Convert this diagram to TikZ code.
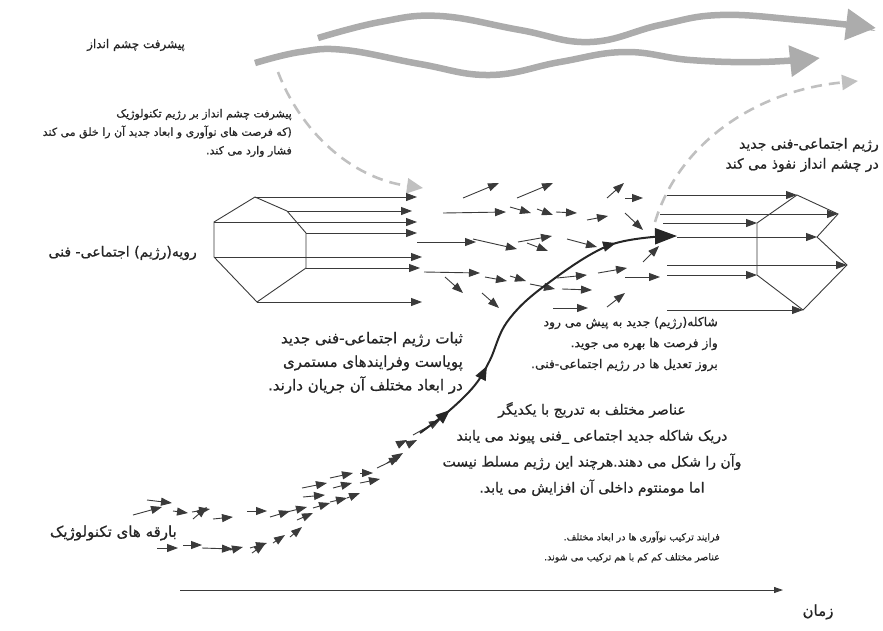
\documentclass[tikz,border=0pt]{standalone}
\usepackage{fontspec}
\usepackage{tikz}
\usetikzlibrary{arrows.meta,positioning,decorations.markings}
\newfontfamily\fafont[Script=Arabic, FakeBold=0.8]{DejaVu Sans}
\TeXXeTstate=1
\newcommand{\rl}[1]{\beginR #1\endR}
\definecolor{landgray}{RGB}{172,172,172}
\definecolor{dashgray}{RGB}{192,192,192}
\definecolor{inkgray}{RGB}{58,58,58}

\begin{document}
\begin{tikzpicture}
    [x=1pt, y=-1pt,
    txt/.style={font=\fafont, text=black!85, inner sep=0pt},
    landarrow/.style={draw=landgray, line width=6.5pt, -{Triangle[length=30pt,width=30pt]}},
    pressure/.style={draw=dashgray, line width=2.6pt, dash pattern=on 11pt off 7pt, -{Triangle[length=16pt,width=15pt]}},
    flow/.style={draw=inkgray, line width=0.9pt, -{Triangle[length=11pt,width=8pt]}},
    regime/.style={draw=inkgray, line width=0.9pt},
    niche/.style={draw=black!85, line width=2pt, -{Triangle[length=22pt,width=16pt]},
      postaction={decorate}, decoration={markings,
        mark=at position 0.11 with {\arrow{Triangle[length=14pt,width=11pt]}},
        mark=at position 0.28 with {\arrow{Triangle[length=14pt,width=11pt]}},
        mark=at position 0.82 with {\arrow{Triangle[length=13pt,width=10pt]}}}}]
    \useasboundingbox (0,0) rectangle (883,630);

    % landscape
    \node (land) [txt, anchor=east, font=\fafont\fontsize{12}{14}\selectfont] at (185,45) {\rl{پیشرفت چشم انداز}};
    \draw[landarrow] plot[smooth, tension=0.7] coordinates {(318,38) (380,22) (440,16) (520,30) (590,42) (660,25) (720,15) (800,20) (876,28)};
    \draw[landarrow] plot[smooth, tension=0.7] coordinates {(255,63) (300,52) (345,50) (420,64) (490,75) (560,62) (625,52) (690,60) (760,62) (820,58)};

    \node (press) [txt, anchor=east, align=right, font=\fafont\fontsize{11}{18.5}\selectfont] at (292,133)
      {\rl{پیشرفت چشم انداز بر رژیم تکنولوژیک}\\ \rl{(که فرصت های نوآوری و ابعاد جدید آن را خلق می کند}\\ \rl{فشار وارد می کند.}\hspace{28pt}};
    \draw[pressure] (278,72) .. controls (300,130) and (350,178) .. (423,188);

    % old regime
    \node (oldreg) [txt, anchor=east, font=\fafont\fontsize{14}{16}\selectfont] at (197,253) {\rl{رویه(رژیم) اجتماعی- فنی}};
    \coordinate (h1) at (255,197);
    \coordinate (h2) at (287,211);
    \coordinate (h3) at (306,233);
    \coordinate (h4) at (306,268);
    \coordinate (h5) at (257,302);
    \coordinate (h6) at (214,257);
    \coordinate (h7) at (214,222);
    \draw[regime] (h1) -- (h2) -- (h3) -- (h4) -- (h5) -- (h6) -- (h7) -- cycle;
    \draw[flow] (h1) -- (417,197);
    \draw[flow] (h2) -- (412,211);
    \draw[flow] (h7) -- (417,222);
    \draw[flow] (h3) -- (417,233);
    \draw[flow] (h6) -- (422,257);
    \draw[flow] (h4) -- (420,268);
    \draw[flow] (h5) -- (422,302);

    % regime in motion
    \foreach \xa/\ya/\xb/\yb in {463/198/499/183, 517/198/553/183, 443/213/506/212, 510/207/531/213,
      537/209/553/215, 556/212/577/213, 587/220/608/216, 607/198/624/183, 625/198/643/198,
      625/213/643/230, 417/242/476/242, 473/239/517/249, 518/242/552/236, 527/243/548/251,
      567/239/597/247, 424/272/480/273, 445/277/463/293, 485/277/507/281, 510/276/526/281,
      530/284/555/289, 557/278/587/275, 562/289/592/290, 482/293/499/308, 553/308/588/308,
      598/273/627/268, 607/307/625/293, 625/277/660/277, 643/262/659/246}
      \draw[flow] (\xa,\ya) -- (\xb,\yb);

    % niches
    \foreach \xa/\ya/\xb/\yb in {147/500/172/503, 133/515/162/507, 173/511/188/513, 192/512/210/509,
      193/519/207/507, 213/519/233/517, 247/511/267/511, 270/517/290/511, 287/512/307/507,
      297/520/313/513, 302/488/327/483, 330/478/353/473, 303/497/325/495, 333/488/352/483,
      313/508/330/503, 330/502/347/498, 347/498/360/493, 360/473/373/473, 360/483/380/479,
      377/468/400/457, 387/463/403/453, 397/445/407/440, 407/445/417/440, 413/435/440/420,
      157/548/178/548, 183/545/202/545, 202/548/233/549, 230/550/243/547, 250/548/267/543,
      252/553/265/544, 273/543/285/535, 290/537/302/527}
      \draw[flow] (\xa,\ya) -- (\xb,\yb);
    \node (spark) [txt, anchor=east, font=\fafont\fontsize{15}{17}\selectfont] at (177,533) {\rl{بارقه های تکنولوژیک}};

    \draw[niche] plot[smooth, tension=0.6] coordinates {(420,433) (450,410) (475,385) (490,360) (507,322) (543,287) (610,245) (677,236)};

    % new regime
    \coordinate (n1) at (757,223);
    \coordinate (n2) at (797,195);
    \coordinate (n3) at (838,214);
    \coordinate (n4) at (817,237);
    \coordinate (n5) at (847,265);
    \coordinate (n6) at (803,310);
    \coordinate (n7) at (757,275);
    \draw[regime] (n1) -- (n2) -- (n3) -- (n4) -- (n5) -- (n6) -- (n7) -- cycle;
    \draw[flow] (667,195) -- (n2);
    \draw[flow] (660,214) -- (n3);
    \draw[flow] (663,223) -- (n1);
    \draw[flow] (677,237) -- (n4);
    \draw[flow] (667,265) -- (n5);
    \draw[flow] (667,275) -- (n7);
    \draw[flow] (667,310) -- (n6);
    \draw[pressure] (655,222) .. controls (680,140) and (760,90) .. (858,81);

    \node (newreg) [txt, anchor=east, align=right, font=\fafont\fontsize{14}{20}\selectfont] at (879,155)
      {\rl{رژیم اجتماعی-فنی جدید}\\ \rl{در چشم انداز نفوذ می کند}};

    \node (stable) [txt, anchor=east, align=right, font=\fafont\fontsize{15}{23.5}\selectfont] at (463,363)
      {\rl{ثبات رژیم اجتماعی-فنی جدید}\\ \rl{پویاست وفرایندهای مستمری}\\ \rl{در ابعاد مختلف آن جریان دارند.}};
    \node (adjust) [txt, anchor=east, align=right, font=\fafont\fontsize{12.3}{21}\selectfont] at (718,344)
      {\rl{شاکله(رژیم) جدید به پیش می رود}\\ \rl{واز فرصت ها بهره می جوید.}\\ \rl{بروز تعدیل ها در رژیم اجتماعی-فنی.}};
    \node (link) [txt, align=center, font=\fafont\fontsize{14}{26}\selectfont] at (592,449)
      {\rl{عناصر مختلف به تدریج با یکدیگر}\\ \rl{دریک شاکله جدید اجتماعی \_فنی پیوند می یابند}\\ \rl{وآن را شکل می دهند.هرچند این رژیم مسلط نیست}\\ \rl{اما مومنتوم داخلی آن افزایش می یابد.}};
    \node (combine) [txt, anchor=east, align=right, font=\fafont\fontsize{9.5}{20}\selectfont] at (720,547)
      {\rl{فرایند ترکیب نوآوری ها در ابعاد مختلف.}\\ \rl{عناصر مختلف کم کم با هم ترکیب می شوند.}};

    % time
    \coordinate (t0) at (180,590);
    \coordinate (t1) at (783,590);
    \draw[regime, -{Triangle[length=9pt,width=6pt]}] (t0) -- (t1);
    \node (time) [txt, font=\fafont\fontsize{15}{17}\selectfont] at (818,612) {\rl{زمان}};

\end{tikzpicture}
\end{document}
